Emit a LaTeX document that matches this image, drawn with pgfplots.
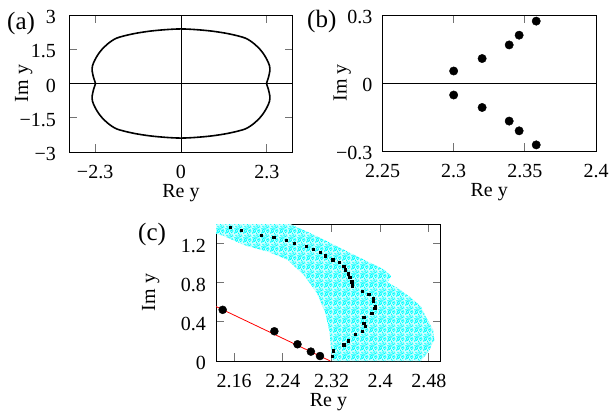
\documentclass[border=0pt]{standalone}
\usepackage{fontspec}
\setmainfont{Liberation Serif}
\usepackage{pgfplots}
\pgfplotsset{compat=1.18}
\usetikzlibrary{patterns.meta}
\definecolor{cy}{RGB}{0,255,255}
\tikzdeclarepattern{
  name=speckle,
  type=uncolored,
  bounding box={(0pt,0pt) and (9pt,9pt)},
  tile size={(9pt,9pt)},
  code={
    \foreach \a/\b in {0.2/0.4, 2.1/1.3, 4.5/0.2, 6.8/1.1, 8.0/2.6, 1.0/3.0, 3.3/3.6, 5.6/2.7, 7.2/4.3, 0.4/5.2, 2.6/5.9, 4.8/5.0, 6.3/6.4, 8.1/6.9, 1.5/7.6, 3.9/8.0, 5.5/8.3, 7.4/8.0, 2.9/2.2, 5.0/7.0, 0.9/1.6, 6.6/3.3, 3.7/4.9, 1.9/4.4}
      {\fill (\a pt,\b pt) rectangle ++(1.3pt,1.3pt);}
  }
}
\newcommand\fs{\fontsize{20}{24}\selectfont}
\newcommand\fp{\fontsize{25}{29}\selectfont}
\pgfplotsset{
  myax/.style={
    scale only axis, anchor=south west,
    tick label style={font=\fs},
    label style={font=\fs},
    major tick length=8pt,
    tick style={black!55, line width=0.8pt},
    axis line style={black, line width=1pt},
    xticklabel style={anchor=base, yshift=-26pt, inner sep=0pt},
    yticklabel style={anchor=east, inner sep=0pt, yshift=-2pt},
    xlabel style={at={([yshift=-45.5pt]axis description cs:0.5,0)}, anchor=base, inner sep=0pt},
  }
}
\begin{document}
\begin{tikzpicture}
\path[use as bounding box] (0,0) rectangle (613pt,-413pt);
% (a)
\begin{axis}[myax, at={(69pt,-152pt)}, width=224pt, height=137pt,
  xmin=-3, xmax=3, ymin=-3, ymax=3,
  xtick={-2.3,0,2.3}, xticklabels={−2.3,0,2.3},
  ytick={-3,-1.5,0,1.5,3}, yticklabels={−3,−1.5,0,1.5,3},
  yticklabel style={xshift=-13pt},
  xlabel={Re y}, ylabel={Im y},
  ylabel style={at={([xshift=-41pt]axis description cs:0,0.5)}, anchor=base, inner sep=0pt}]
\addplot[black, line width=0.8pt] coordinates {(-3,0) (3,0)};
\addplot[black, line width=0.8pt] coordinates {(0,-3) (0,3)};
\addplot[black, line width=1.6pt, smooth, tension=0.5] coordinates {
(2.29,0) (2.31,0.10) (2.34,0.25) (2.38,0.55) (2.37,0.78) (2.31,1.02) (2.23,1.25) (2.13,1.47) (1.96,1.74) (1.72,1.99) (1.30,2.17) (0.85,2.29) (0.40,2.36) (0,2.39)
(-0.40,2.36) (-0.85,2.29) (-1.30,2.17) (-1.72,1.99) (-1.96,1.74) (-2.13,1.47) (-2.23,1.25) (-2.31,1.02) (-2.37,0.78) (-2.38,0.55) (-2.34,0.25) (-2.31,0.10) (-2.29,0)
(-2.31,-0.10) (-2.34,-0.25) (-2.38,-0.55) (-2.37,-0.78) (-2.31,-1.02) (-2.23,-1.25) (-2.13,-1.47) (-1.96,-1.74) (-1.72,-1.99) (-1.30,-2.17) (-0.85,-2.29) (-0.40,-2.36) (0,-2.39)
(0.40,-2.36) (0.85,-2.29) (1.30,-2.17) (1.72,-1.99) (1.96,-1.74) (2.13,-1.47) (2.23,-1.25) (2.31,-1.02) (2.37,-0.78) (2.38,-0.55) (2.34,-0.25) (2.31,-0.10) (2.29,0)
};
\end{axis}
% (b)
\begin{axis}[myax, at={(382.5pt,-151pt)}, width=213.5pt, height=136pt,
  xmin=2.25, xmax=2.4, ymin=-0.3, ymax=0.3,
  xtick={2.25,2.3,2.35,2.4}, xticklabels={2.25,2.3,2.35,2.4},
  ytick={-0.3,0,0.3}, yticklabels={−0.3,0,0.3},
  yticklabel style={xshift=-10pt},
  xlabel={Re y}, ylabel={Im y},
  ylabel style={at={([xshift=-36pt]axis description cs:0,0.5)}, anchor=base, inner sep=0pt}]
\addplot[black, line width=0.8pt] coordinates {(2.25,0) (2.4,0)};
\addplot[only marks, mark=*, mark size=4.2pt, black] coordinates {
(2.300,0.053) (2.320,0.108) (2.339,0.168) (2.346,0.211) (2.358,0.273)
(2.300,-0.053) (2.320,-0.108) (2.339,-0.168) (2.346,-0.211) (2.358,-0.273)
};
\end{axis}
% (c)
\begin{axis}[myax, at={(216pt,-361pt)}, width=225pt, height=137pt,
  xmin=2.13, xmax=2.5, ymin=0, ymax=1.4,
  xtick={2.16,2.24,2.32,2.4,2.48}, xticklabels={2.16,2.24,2.32,2.4,2.48},
  ytick={0,0.4,0.8,1.2}, yticklabels={0,0.4,0.8,1.2},
  yticklabel style={xshift=-10pt},
  xlabel={Re y}, ylabel={Im y},
  ylabel style={at={([xshift=-61pt]axis description cs:0,0.5)}, anchor=base, inner sep=0pt}]
\addplot[fill=cy!18, draw=none] coordinates {
(2.13,1.40) (2.252,1.40) (2.296,1.275) (2.340,1.138) (2.373,1.036) (2.407,0.933) (2.418,0.865) (2.412,0.803) (2.429,0.746) (2.451,0.643) (2.467,0.557) (2.475,0.454) (2.487,0.318) (2.489,0.215) (2.481,0.113) (2.467,0)
(2.321,0) (2.317,0.284) (2.310,0.489) (2.296,0.694) (2.274,0.882) (2.247,1.036) (2.214,1.12) (2.178,1.18) (2.142,1.28) (2.13,1.30)
} -- cycle;
\addplot[pattern={speckle}, pattern color=cy, draw=none] coordinates {
(2.13,1.40) (2.252,1.40) (2.296,1.275) (2.340,1.138) (2.373,1.036) (2.407,0.933) (2.418,0.865) (2.412,0.803) (2.429,0.746) (2.451,0.643) (2.467,0.557) (2.475,0.454) (2.487,0.318) (2.489,0.215) (2.481,0.113) (2.467,0)
(2.321,0) (2.317,0.284) (2.310,0.489) (2.296,0.694) (2.274,0.882) (2.247,1.036) (2.214,1.12) (2.178,1.18) (2.142,1.28) (2.13,1.30)
} -- cycle;
\addplot[only marks, mark=square*, mark size=1.1pt, black] coordinates {
(2.153,1.371) (2.172,1.333) (2.204,1.289) (2.225,1.265) (2.246,1.234) (2.259,1.207) (2.278,1.172) (2.290,1.146) (2.301,1.108) (2.309,1.077) (2.322,1.036)
(2.333,1.008) (2.340,0.967) (2.342,0.933) (2.347,0.892) (2.350,0.858) (2.353,0.810) (2.354,0.769) (2.370,0.715) (2.381,0.680) (2.389,0.639) (2.388,0.612) (2.392,0.564) (2.391,0.536)
(2.386,0.489) (2.373,0.448) (2.373,0.387) (2.376,0.352) (2.371,0.305) (2.359,0.270) (2.347,0.208) (2.340,0.167) (2.323,0.106) (2.321,0.051)
};
\addplot[red, line width=0.8pt] coordinates {(2.13,0.557) (2.318,0)};
\addplot[only marks, mark=*, mark size=4pt, black] coordinates {
(2.141,0.523) (2.226,0.304) (2.264,0.171) (2.286,0.096) (2.301,0.051)
};
\end{axis}
\node[anchor=base west, font=\fp, inner sep=0pt] at (7pt,-29pt) {(a)};
\node[anchor=base west, font=\fp, inner sep=0pt] at (307pt,-27pt) {(b)};
\node[anchor=base west, font=\fp, inner sep=0pt] at (138pt,-240pt) {(c)};
\end{tikzpicture}
\end{document}
